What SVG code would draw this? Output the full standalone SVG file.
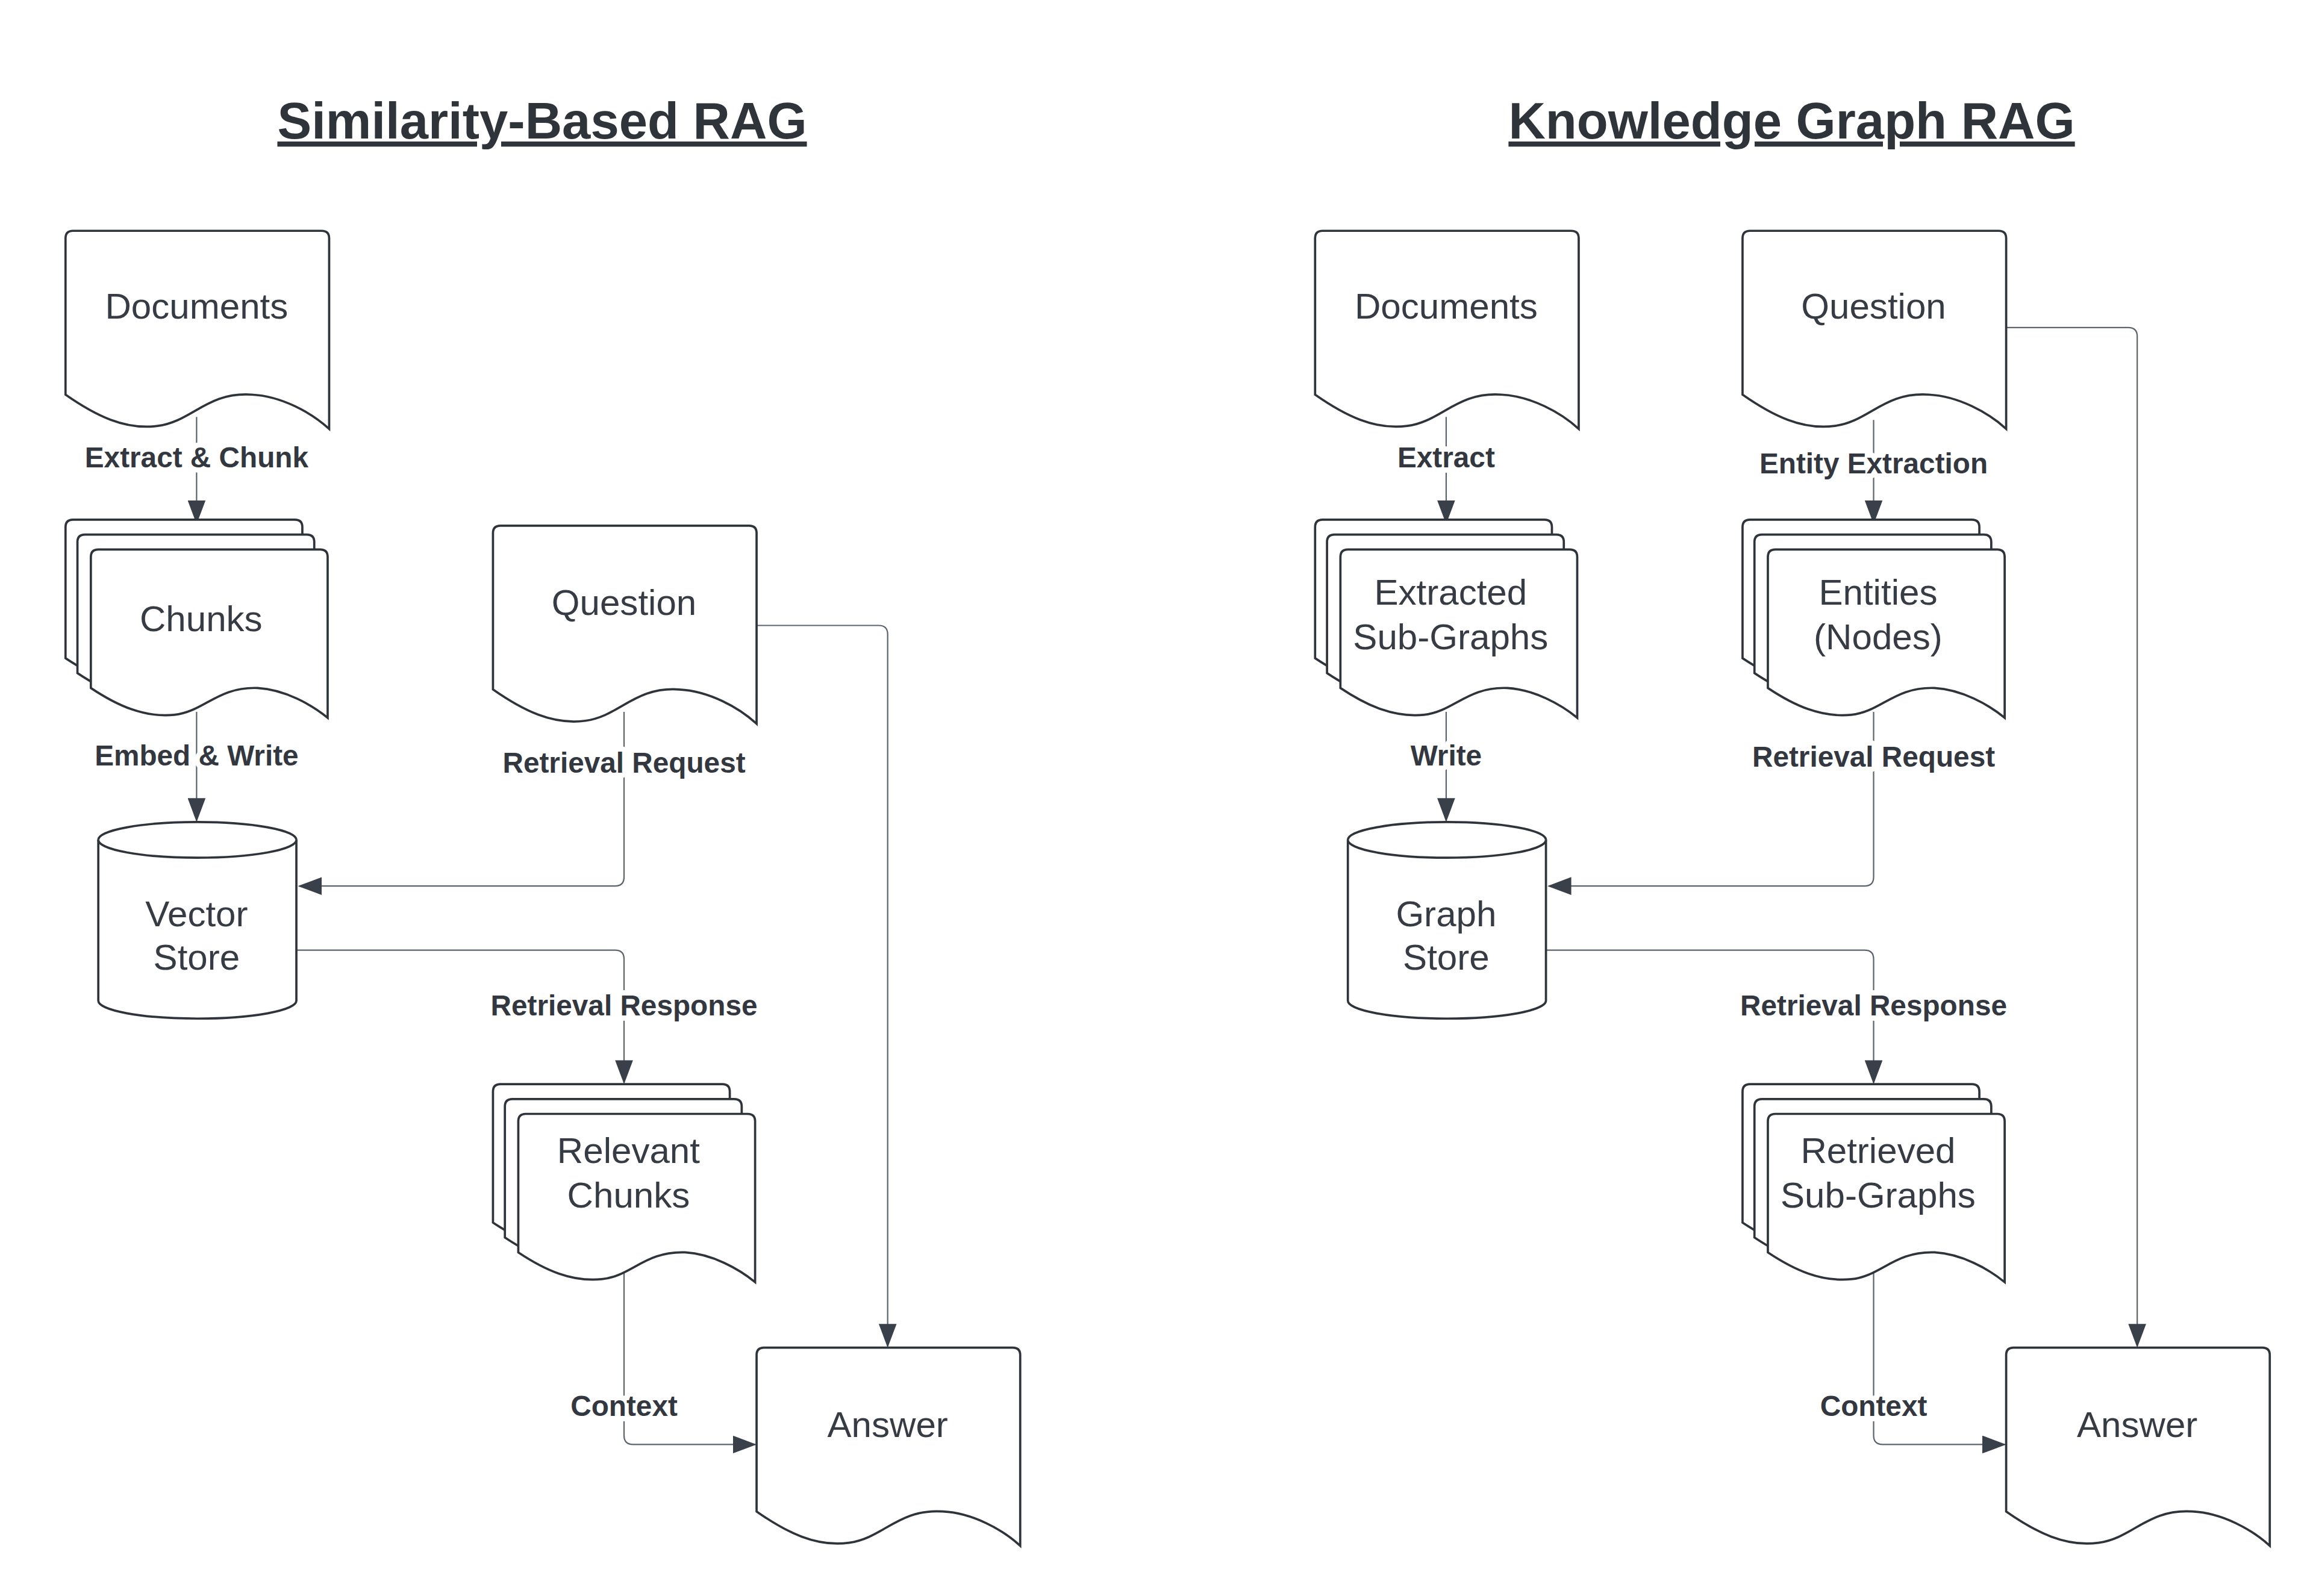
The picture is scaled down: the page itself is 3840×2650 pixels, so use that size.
<svg xmlns="http://www.w3.org/2000/svg" xmlns:xlink="http://www.w3.org/1999/xlink" width="3840" height="2650" viewBox="0 0 3840 2650">
<style>
.shape{fill:#fff;stroke:#2f343b;stroke-width:1.5}
.conn{fill:none;stroke:#5d636d;stroke-width:0.9}
.nt{font-family:"Liberation Sans",Arial,sans-serif;font-size:24.3px;fill:#363b44;text-anchor:middle}
.lb{font-family:"Liberation Sans",Arial,sans-serif;font-size:19.3px;font-weight:bold;fill:#333840;text-anchor:middle;stroke:#fff;stroke-width:7;paint-order:stroke;stroke-linejoin:round}
.tt{font-family:"Liberation Sans",Arial,sans-serif;font-size:34.4px;font-weight:bold;fill:#2f343b;text-anchor:middle;text-decoration:underline}
</style>
<defs>
<marker id="ah" markerUnits="userSpaceOnUse" markerWidth="16" markerHeight="12" refX="15" refY="6" orient="auto"><path d="M0,0 L16,6 L0,12 Z" fill="#3a4049"/></marker>
<path id="doc" class="shape" d="M0,5 Q0,0 5,0 L172,0 Q177,0 177,5 L177,133 C165,122 145,111 125,110 C95,108 85,128 62,131 C40,134 20,124 0,110 Z"/>
<path id="sheet" class="shape" d="M0,5 Q0,0 5,0 L154,0 Q159,0 159,5 L159,113 C148,104 130,94 112,93 C85,92 76,109 56,111 C36,113 18,105 0,93 Z"/>
<g id="stack"><use xlink:href="#sheet"/><use xlink:href="#sheet" x="8" y="10"/><use xlink:href="#sheet" x="17" y="20"/></g>
</defs>
<rect width="3840" height="2650" fill="#fff"/>
<g transform="scale(2.4726)">
<text class="tt" x="364" y="93">Similarity-Based RAG</text>
<text class="tt" x="1203" y="93">Knowledge Graph RAG</text>
<g id="connectors">
<path class="conn" marker-end="url(#ah)" d="M132,280 L132,351"/>
<path class="conn" marker-end="url(#ah)" d="M132,478 L132,551"/>
<path class="conn" marker-end="url(#ah)" d="M419,478 L419,589 Q419,595 413,595 L201,595"/>
<path class="conn" marker-end="url(#ah)" d="M199,638 L413,638 Q419,638 419,644 L419,727"/>
<path class="conn" marker-end="url(#ah)" d="M508,420 L590,420 Q596,420 596,426 L596,904"/>
<path class="conn" marker-end="url(#ah)" d="M419,855 L419,964 Q419,970 425,970 L507,970"/>
<path class="conn" marker-end="url(#ah)" d="M971,280 L971,351"/>
<path class="conn" marker-end="url(#ah)" d="M1258,282 L1258,351"/>
<path class="conn" marker-end="url(#ah)" d="M971,478 L971,551"/>
<path class="conn" marker-end="url(#ah)" d="M1258,478 L1258,589 Q1258,595 1252,595 L1040,595"/>
<path class="conn" marker-end="url(#ah)" d="M1038,638 L1252,638 Q1258,638 1258,644 L1258,727"/>
<path class="conn" marker-end="url(#ah)" d="M1347,220 L1429,220 Q1435,220 1435,226 L1435,904"/>
<path class="conn" marker-end="url(#ah)" d="M1258,855 L1258,964 Q1258,970 1264,970 L1346,970"/>
<text class="lb" x="132" y="314">Extract &amp; Chunk</text>
<text class="lb" x="132" y="514">Embed &amp; Write</text>
<text class="lb" x="419" y="519">Retrieval Request</text>
<text class="lb" x="419" y="682">Retrieval Response</text>
<text class="lb" x="419" y="951">Context</text>
<text class="lb" x="971" y="314">Extract</text>
<text class="lb" x="1258" y="318">Entity Extraction</text>
<text class="lb" x="971" y="514">Write</text>
<text class="lb" x="1258" y="515">Retrieval Request</text>
<text class="lb" x="1258" y="682">Retrieval Response</text>
<text class="lb" x="1258" y="951">Context</text>
</g>
<g id="documents-l"><use xlink:href="#doc" x="44" y="155"/><text class="nt" x="132" y="214">Documents</text></g>
<g id="chunks"><use xlink:href="#stack" x="44" y="349"/><text class="nt" x="135" y="424">Chunks</text></g>
<g id="question-l"><use xlink:href="#doc" x="331" y="353"/><text class="nt" x="419" y="413">Question</text></g>
<g id="vector-store"><path class="shape" d="M66,564 A66.5,12 0 0 1 199,564 L199,672 A66.5,12 0 0 1 66,672 Z"/><path class="shape" fill="none" d="M66,564 A66.5,12 0 0 0 199,564"/><text class="nt" x="132" y="622">Vector</text><text class="nt" x="132" y="651">Store</text></g>
<g id="relevant-chunks"><use xlink:href="#stack" x="331" y="728"/><text class="nt" x="422" y="781">Relevant</text><text class="nt" x="422" y="811">Chunks</text></g>
<g id="answer-l"><use xlink:href="#doc" x="508" y="905"/><text class="nt" x="596" y="965">Answer</text></g>
<g id="documents-r"><use xlink:href="#doc" x="883" y="155"/><text class="nt" x="971" y="214">Documents</text></g>
<g id="question-r"><use xlink:href="#doc" x="1170" y="155"/><text class="nt" x="1258" y="214">Question</text></g>
<g id="extracted"><use xlink:href="#stack" x="883" y="349"/><text class="nt" x="974" y="406">Extracted</text><text class="nt" x="974" y="436">Sub-Graphs</text></g>
<g id="entities"><use xlink:href="#stack" x="1170" y="349"/><text class="nt" x="1261" y="406">Entities</text><text class="nt" x="1261" y="436">(Nodes)</text></g>
<g id="graph-store"><path class="shape" d="M905,564 A66.5,12 0 0 1 1038,564 L1038,672 A66.5,12 0 0 1 905,672 Z"/><path class="shape" fill="none" d="M905,564 A66.5,12 0 0 0 1038,564"/><text class="nt" x="971" y="622">Graph</text><text class="nt" x="971" y="651">Store</text></g>
<g id="retrieved"><use xlink:href="#stack" x="1170" y="728"/><text class="nt" x="1261" y="781">Retrieved</text><text class="nt" x="1261" y="811">Sub-Graphs</text></g>
<g id="answer-r"><use xlink:href="#doc" x="1347" y="905"/><text class="nt" x="1435" y="965">Answer</text></g>
</g>
</svg>
